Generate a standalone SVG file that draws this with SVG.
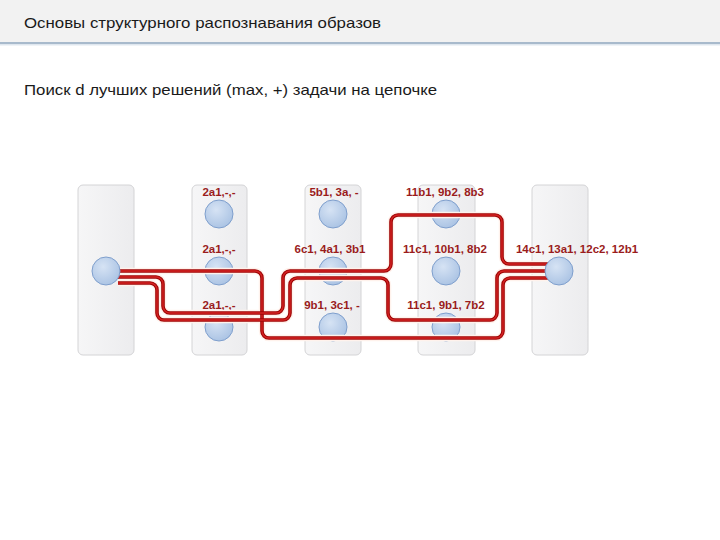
<svg xmlns="http://www.w3.org/2000/svg" xmlns:xlink="http://www.w3.org/1999/xlink" width="720" height="540" viewBox="0 0 720 540">
<defs>
<linearGradient id="panelGrad" x1="0" y1="0" x2="1" y2="0">
<stop offset="0" stop-color="#f6f6f7"/>
<stop offset="1" stop-color="#ececee"/>
</linearGradient>
<radialGradient id="nodeGrad" cx="0.4" cy="0.35" r="0.7">
<stop offset="0" stop-color="#d6e3f4"/>
<stop offset="1" stop-color="#a9c2e3"/>
</radialGradient>
<path id="pA" d="M 118 271 H 255 A 7 7 0 0 1 262 278 V 331 A 7 7 0 0 0 269 338 H 496 A 7 7 0 0 0 503 331 V 285 A 7 7 0 0 1 510 278 H 548"/>
<path id="pB" d="M 118 277 H 156 A 7 7 0 0 1 163 284 V 306 A 7 7 0 0 0 170 313 H 276 A 7 7 0 0 0 283 306 V 278 A 7 7 0 0 1 290 271 H 384 A 7 7 0 0 0 391 264 V 222 A 7 7 0 0 1 398 215 H 495 A 7 7 0 0 1 502 222 V 257 A 7 7 0 0 0 509 264 H 548"/>
<path id="pC" d="M 118 283 H 150 A 7 7 0 0 1 157 290 V 313 A 7 7 0 0 0 164 320 H 283 A 7 7 0 0 0 290 313 V 285 A 7 7 0 0 1 297 278 H 381 A 7 7 0 0 1 388 285 V 313 A 7 7 0 0 0 395 320 H 490 A 7 7 0 0 0 497 313 V 278 A 7 7 0 0 1 504 271 H 548"/>
</defs>
<style>
.title{font-family:"Liberation Sans","Noto Sans",sans-serif;font-size:15px;fill:#1a1a1a}
.panel{fill:url(#panelGrad);stroke:#d4d4d6;stroke-width:1}
.node{fill:url(#nodeGrad);stroke:#7f9fcd;stroke-width:1}
.lbl{font-family:"Liberation Sans",Arial,sans-serif;font-size:11.5px;font-weight:bold;fill:#9a1c1c;text-anchor:middle}
.halo{fill:none;stroke:#fff2ec;stroke-width:6.5}
.edge{fill:none;stroke:#9e0505;stroke-width:3.6}
.core{fill:none;stroke:#d42222;stroke-width:1.4}
</style>
<rect x="0" y="0" width="720" height="540" fill="#ffffff"/>
<rect x="0" y="0" width="720" height="42" fill="#f2f2f2"/>
<rect x="0" y="42" width="720" height="2" fill="#a8bacc"/>
<rect x="0" y="44" width="720" height="1.5" fill="#dfe7ef"/>
<text class="title" x="24" y="28" textLength="357" lengthAdjust="spacingAndGlyphs">Основы структурного распознавания образов</text>
<text class="title" x="24" y="95" textLength="413" lengthAdjust="spacingAndGlyphs">Поиск d лучших решений (max, +) задачи на цепочке</text>

<g id="panel1"><rect class="panel" x="78" y="185" width="56" height="170" rx="5"/></g>
<g id="panel2"><rect class="panel" x="192" y="185" width="55" height="170" rx="5"/></g>
<g id="panel3"><rect class="panel" x="305" y="185" width="56" height="170" rx="5"/></g>
<g id="panel4"><rect class="panel" x="418" y="185" width="57" height="170" rx="5"/></g>
<g id="panel5"><rect class="panel" x="532" y="185" width="56" height="170" rx="5"/></g>

<g id="n2a"><circle class="node" cx="219" cy="214" r="14"/><text class="lbl" x="219" y="196">2a1,-,-</text></g>
<g id="n2b"><circle class="node" cx="219" cy="271" r="14"/><text class="lbl" x="219" y="253">2a1,-,-</text></g>
<g id="n2c"><circle class="node" cx="219" cy="327" r="14"/><text class="lbl" x="219" y="309">2a1,-,-</text></g>
<g id="n3a"><circle class="node" cx="333" cy="214" r="14"/><text class="lbl" x="334" y="196">5b1, 3a, -</text></g>
<g id="n3b"><circle class="node" cx="333" cy="271" r="14"/><text class="lbl" x="330" y="253">6c1, 4a1, 3b1</text></g>
<g id="n3c"><circle class="node" cx="333" cy="327" r="14"/><text class="lbl" x="332" y="309">9b1, 3c1, -</text></g>
<g id="n4a"><circle class="node" cx="446" cy="214" r="14"/><text class="lbl" x="445" y="196">11b1, 9b2, 8b3</text></g>
<g id="n4b"><circle class="node" cx="446" cy="271" r="14"/><text class="lbl" x="445" y="253">11c1, 10b1, 8b2</text></g>
<g id="n4c"><circle class="node" cx="446" cy="327" r="14"/><text class="lbl" x="446" y="309">11c1, 9b1, 7b2</text></g>

<g id="connectors">
<use xlink:href="#pA" class="halo"/>
<use xlink:href="#pB" class="halo"/>
<use xlink:href="#pC" class="halo"/>
<use xlink:href="#pA" class="edge"/>
<use xlink:href="#pA" class="core"/>
<use xlink:href="#pB" class="edge"/>
<use xlink:href="#pB" class="core"/>
<use xlink:href="#pC" class="edge"/>
<use xlink:href="#pC" class="core"/>
</g>

<g id="n1"><circle class="node" cx="106" cy="271" r="14"/></g>
<g id="n5"><circle class="node" cx="559" cy="271" r="14"/><text class="lbl" x="577" y="253">14c1, 13a1, 12c2, 12b1</text></g>
</svg>
